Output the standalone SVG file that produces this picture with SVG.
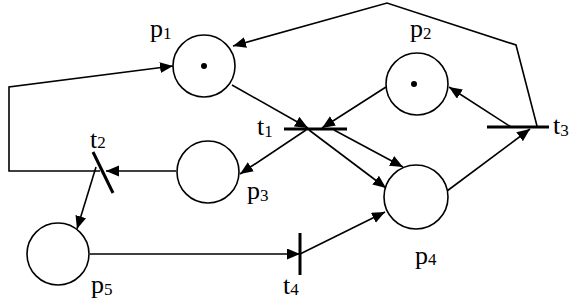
<svg xmlns="http://www.w3.org/2000/svg" width="578" height="305" viewBox="0 0 578 305">
<style>
.place{fill:#fff;stroke:#000;stroke-width:1.6}
.tok{fill:#000}
.bar{stroke:#000;stroke-width:3;fill:none}
.arc{stroke:#000;stroke-width:1.6;fill:none}
.lbl{font-family:"Liberation Serif","Times New Roman",serif;font-size:26px;fill:#000}
.sub{font-size:17px}
</style>
<defs>
<marker id="ah" markerUnits="userSpaceOnUse" markerWidth="14" markerHeight="12" refX="13" refY="5.5" orient="auto">
<path d="M0,0 L13,5.5 L0,11 z" fill="#000"/>
</marker>
</defs>
<rect width="578" height="305" fill="#fff"/>
<g id="connectors">
<polyline class="arc" points="100,171 9,171 9,87 173,66" marker-end="url(#ah)"/>
<polyline class="arc" points="537,126 516,45 387,3 233,46" marker-end="url(#ah)"/>
<line class="arc" x1="232" y1="85" x2="308" y2="128" marker-end="url(#ah)"/>
<line class="arc" x1="386" y1="87" x2="322" y2="128" marker-end="url(#ah)"/>
<line class="arc" x1="306" y1="130" x2="240" y2="174" marker-end="url(#ah)"/>
<line class="arc" x1="309" y1="130" x2="386" y2="188" marker-end="url(#ah)"/>
<line class="arc" x1="334" y1="130" x2="403" y2="167" marker-end="url(#ah)"/>
<line class="arc" x1="176" y1="171" x2="106" y2="171" marker-end="url(#ah)"/>
<line class="arc" x1="96" y1="167" x2="77" y2="229" marker-end="url(#ah)"/>
<line class="arc" x1="90" y1="254" x2="300" y2="254" marker-end="url(#ah)"/>
<line class="arc" x1="300" y1="254" x2="385" y2="212" marker-end="url(#ah)"/>
<line class="arc" x1="447" y1="191" x2="530" y2="129" marker-end="url(#ah)"/>
<line class="arc" x1="511" y1="127" x2="449" y2="87" marker-end="url(#ah)"/>
</g>
<g id="p1">
<circle class="place" cx="204" cy="66" r="31"/>
<circle class="tok" cx="204" cy="66" r="3"/>
<text class="lbl" x="150" y="37">p<tspan class="sub" dy="2">1</tspan></text>
</g>
<g id="p2">
<circle class="place" cx="417" cy="84" r="31"/>
<circle class="tok" cx="414" cy="84" r="3"/>
<text class="lbl" x="410" y="37">p<tspan class="sub" dy="2">2</tspan></text>
</g>
<g id="p3">
<circle class="place" cx="208" cy="172" r="31"/>
<text class="lbl" x="247" y="199">p<tspan class="sub" dy="2">3</tspan></text>
</g>
<g id="p4">
<circle class="place" cx="416" cy="197" r="32"/>
<text class="lbl" x="415" y="264">p<tspan class="sub" dy="1">4</tspan></text>
</g>
<g id="p5">
<circle class="place" cx="58" cy="254" r="31"/>
<text class="lbl" x="91" y="293">p<tspan class="sub" dy="2">5</tspan></text>
</g>
<g id="t1">
<line class="bar" x1="284" y1="129" x2="347" y2="129"/>
<text class="lbl" x="257" y="135">t<tspan class="sub" dy="2">1</tspan></text>
</g>
<g id="t2">
<line class="bar" x1="93" y1="152" x2="113" y2="193"/>
<text class="lbl" x="90" y="148">t<tspan class="sub" dy="0">2</tspan></text>
</g>
<g id="t3">
<line class="bar" x1="487" y1="127" x2="549" y2="127"/>
<text class="lbl" x="553" y="134">t<tspan class="sub" dy="2">3</tspan></text>
</g>
<g id="t4">
<line class="bar" x1="300" y1="233" x2="300" y2="275"/>
<text class="lbl" x="283" y="294">t<tspan class="sub" dy="1">4</tspan></text>
</g>
</svg>
